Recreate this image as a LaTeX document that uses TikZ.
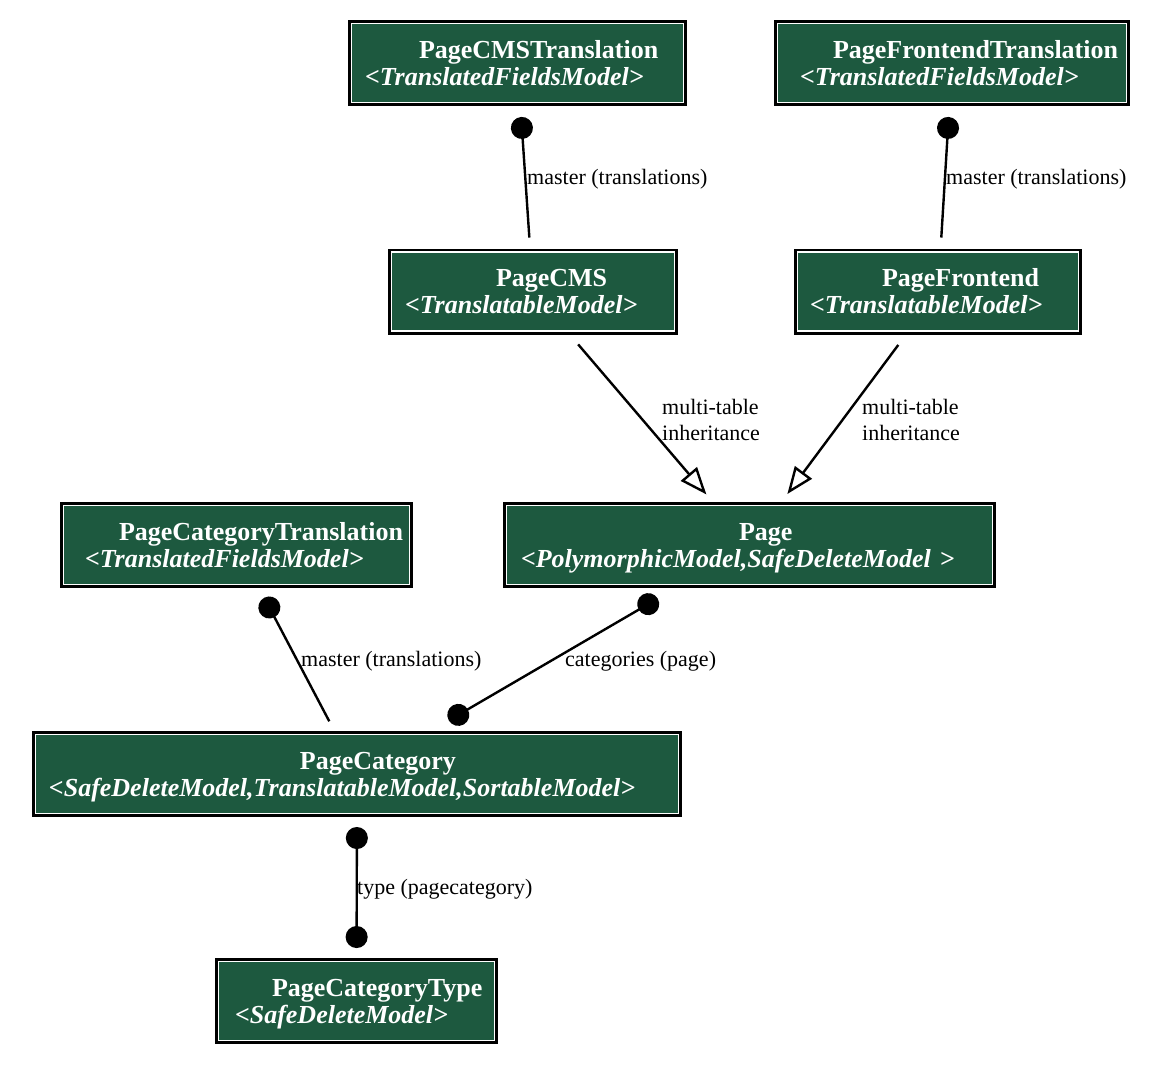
\documentclass[tikz,border=0pt]{standalone}
\usepackage{fontspec}
\setmainfont{Liberation Serif}
\usetikzlibrary{arrows.meta}

\definecolor{modelgreen}{RGB}{29,89,63}
\newcommand{\modelfont}{\fontsize{26}{27}\selectfont\bfseries}
\newcommand{\relfont}{\fontsize{22}{26}\selectfont}

\tikzset{
  model/.style={rectangle, fill=modelgreen, draw=white, line width=1.6pt,
    preaction={draw=black, line width=6.8pt}, outer sep=3.4pt, inner sep=0pt,
    minimum height=79.2pt, text=white, align=left, font=\modelfont, text width=#1,
    execute at begin node={\rule{0pt}{23pt}}, execute at end node={\rule[-6pt]{0pt}{6pt}}},
  rel/.style={black, line width=2.4pt},
  fk/.style={rel, {Circle[length=22pt]}-, shorten <=11pt, shorten >=11pt},
  fkfk/.style={rel, {Circle[length=22pt]}-{Circle[length=22pt]}, shorten <=10pt, shorten >=10pt},
  inherit/.style={rel, -{Triangle[open, length=27pt, width=21pt, fill=white]}, shorten <=13pt, shorten >=10pt},
  rellabel/.style={anchor=west, inner sep=0pt, font=\relfont, align=left},
}

\begin{document}
\begin{tikzpicture}[x=1pt, y=-1pt]
    \useasboundingbox (0,0) rectangle (1160,1066);

    % Modelli
    \node[model=332.2pt] (pcmst) at (517.5,63) {\hspace*{67.6pt}PageCMSTranslation\\\hspace*{13.6pt}\textit{<TranslatedFieldsModel>}};
    \node[model=349.2pt] (pfrt) at (952,63) {\hspace*{55.6pt}PageFrontendTranslation\\\hspace*{22.6pt}\textit{<TranslatedFieldsModel>}};
    \node[model=283.2pt] (pcms) at (533,291.5) {\hspace*{104.6pt}PageCMS\\\hspace*{13.6pt}\textit{<TranslatableModel>}};
    \node[model=281.2pt] (pfr) at (938,291.5) {\hspace*{84.6pt}PageFrontend\\\hspace*{12.6pt}\textit{<TranslatableModel>}};
    \node[model=346.2pt] (pct) at (236.5,545) {\hspace*{55.6pt}PageCategoryTranslation\\\hspace*{21.6pt}\textit{<TranslatedFieldsModel>}};
    \node[model=486.2pt] (page) at (749.5,545) {\hspace*{232.6pt}Page\\\hspace*{14.6pt}\textit{<PolymorphicModel,SafeDeleteModel >}};
    \node[model=643.2pt] (pc) at (357,774) {\hspace*{264.6pt}PageCategory\\\hspace*{13.6pt}\textit{<SafeDeleteModel,TranslatableModel,SortableModel>}};
    \node[model=276.2pt] (pctype) at (356.5,1001) {\hspace*{53.6pt}PageCategoryType\\\hspace*{16.6pt}\textit{<SafeDeleteModel>}};

    % Relazioni
    \draw[fk] (pcmst) -- (pcms);
    \draw[fk] (pfrt) -- (pfr);
    \draw[inherit] (pcms) -- (page);
    \draw[inherit] (pfr) -- (page);
    \draw[fk] (pct) -- (pc);
    \draw[fkfk, shorten <=21pt, shorten >=21pt] (page) -- (pc);
    \draw[fkfk] (pc) -- (pctype);

    % Etichette
    \node[rellabel] (lcms) at (527,179) {master (translations)};
    \node[rellabel] (lfr) at (946,179) {master (translations)};
    \node[rellabel] (lcmsinh) at (662,420) {multi-table\\inheritance};
    \node[rellabel] (lfrinh) at (862,420) {multi-table\\inheritance};
    \node[rellabel] (lcat) at (301,661) {master (translations)};
    \node[rellabel] (lpage) at (565,661) {categories (page)};
    \node[rellabel] (ltype) at (357,889) {type (pagecategory)};
\end{tikzpicture}
\end{document}
